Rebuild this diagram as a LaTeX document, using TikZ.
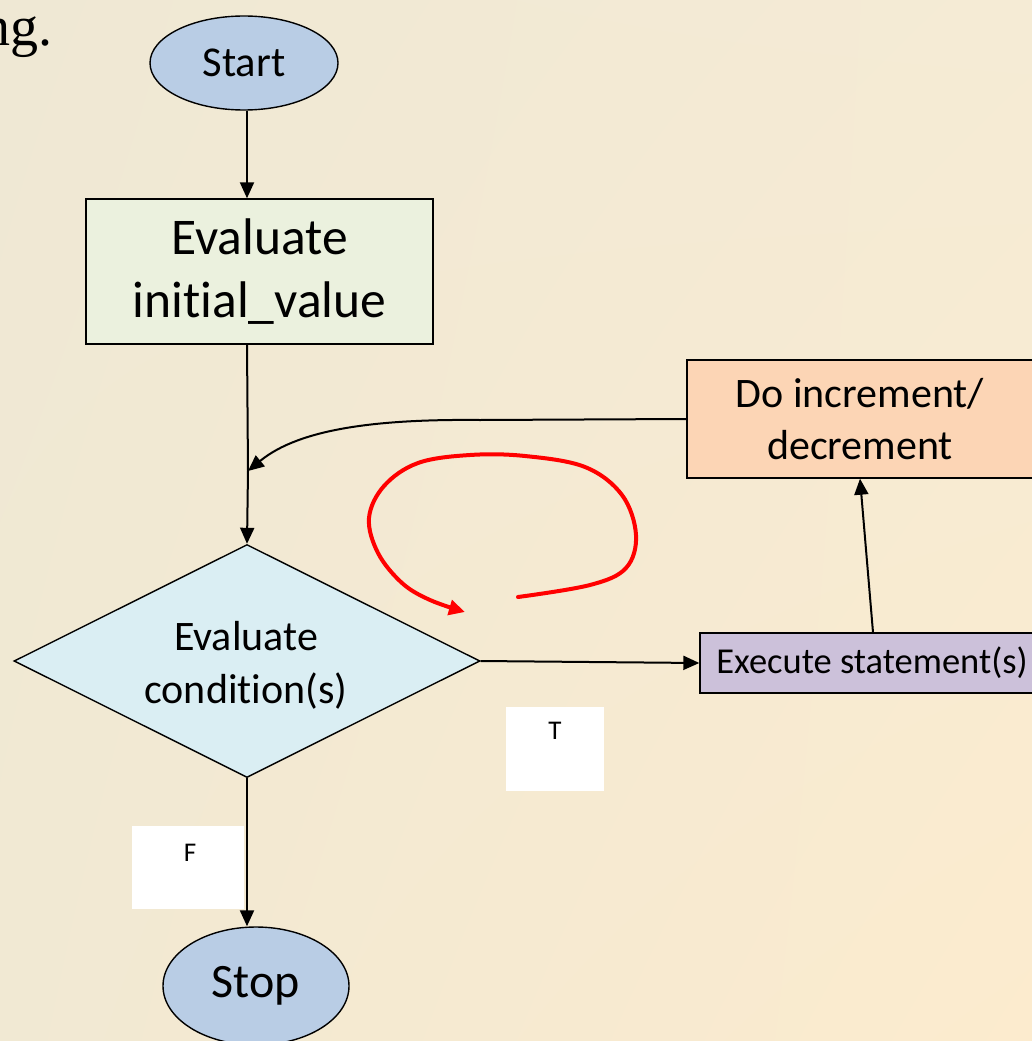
\documentclass[tikz,border=0pt]{standalone}
\usepackage{fontspec}
\setmainfont[Ligatures=NoCommon]{Carlito}
\newfontfamily\serifface{Liberation Serif}
\usetikzlibrary{shapes.geometric,arrows.meta,calc,shadings}

\definecolor{bgul}{RGB}{239,232,212}
\definecolor{bgur}{RGB}{245,235,213}
\definecolor{bgll}{RGB}{241,233,211}
\definecolor{bglr}{RGB}{252,235,206}
\definecolor{termfill}{RGB}{185,205,229}
\definecolor{initfill}{RGB}{235,241,222}
\definecolor{condfill}{RGB}{218,238,243}
\definecolor{incfill}{RGB}{252,213,181}
\definecolor{execfill}{RGB}{204,193,218}

\begin{document}
\begin{tikzpicture}[x=1pt,y=-1pt,
  conn/.style={line width=2pt, -{Triangle[length=16pt,width=14pt]}},
  outline/.style={draw=black, line width=1.4pt},
  termnode/.style={ellipse, outline, fill=termfill, inner sep=0pt},
  procnode/.style={rectangle, outline, inner sep=0pt, align=center},
  labelbox/.style={rectangle, fill=white, inner sep=0pt},
  loopmark/.style={draw=red, line width=4pt, line cap=round,
                   -{Triangle[length=16pt,width=15pt]}}
]
% page and background
\useasboundingbox (0,0) rectangle (1032,1041);
\shade[upper left=bgul, upper right=bgur, lower left=bgll, lower right=bglr]
  (0,0) rectangle (1032,1041);

% trailing word of the heading
\node[anchor=base east, inner sep=0pt, font=\serifface\fontsize{56}{60}\selectfont]
  (heading) at (53,46) {ng.};

% flowchart nodes
\node[termnode, minimum width=188pt, minimum height=94pt,
      font=\fontsize{42.5}{48}\selectfont] (start) at (244,63) {Start};

\node[procnode, fill=initfill, minimum width=347pt, minimum height=145pt,
      font=\fontsize{51.5}{63}\selectfont] (init) at (259.5,271.5)
      {Evaluate\\initial\_value};

\node[diamond, outline, fill=condfill, aspect=2, inner sep=0pt,
      minimum width=466pt, minimum height=233pt] (cond) at (247,661) {};
\node[align=center, inner sep=0pt, font=\fontsize{42}{53}\selectfont]
  (condtext) at (246,665) {Evaluate\\condition(s)};

\node[procnode, fill=execfill, minimum width=344pt, minimum height=60pt,
      font=\fontsize{36.5}{42}\selectfont] (exec) at (872,663)
      {Execute statement(s)};

\node[procnode, fill=incfill, minimum width=346pt, minimum height=118pt,
      font=\fontsize{42}{52}\selectfont] (inc) at (860,419)
      {Do increment/\\decrement};

\node[termnode, minimum width=186pt, minimum height=118pt,
      font=\fontsize{48}{54}\selectfont] (stop) at (256,986) {Stop};

% branch labels
\node[labelbox, minimum width=98pt, minimum height=84pt] (tbox) at (555,749) {};
\node[anchor=north, inner sep=0pt, font=\fontsize{27}{30}\selectfont]
  (tlabel) at (555,722) {T};
\node[labelbox, minimum width=112pt, minimum height=83pt] (fbox) at (188,867.5) {};
\node[anchor=north, inner sep=0pt, font=\fontsize{27}{30}\selectfont]
  (flabel) at (190,844) {F};

% junction on the main trunk
\coordinate (trunk) at (247,0);
\coordinate (merge) at (248,471);

% connectors
\draw[conn] (start.south -| trunk) -- (init.north -| trunk);
\draw[line width=2pt] (init.south -| trunk) -- (merge);
\draw[conn] (merge) -- (cond.north);
\draw[conn] (cond.east) -- (exec.west);
\draw[conn] ($(exec.north)+(1,0)$) -- (inc.south);
\draw[conn] (inc.west) -- (480,420) .. controls (380,419) and (300,428) .. (merge);
\draw[conn] (cond.south) -- (cond.south |- stop.north);

% loop indicator
\draw[loopmark] plot[smooth, tension=0.6] coordinates {
  (518,597) (590,585) (626,568) (636,535) (622,495) (585,467) (525,456)
  (470,455) (418,463) (384,486) (369,518) (378,553) (402,583) (430,600) (465,612)};
\end{tikzpicture}
\end{document}
